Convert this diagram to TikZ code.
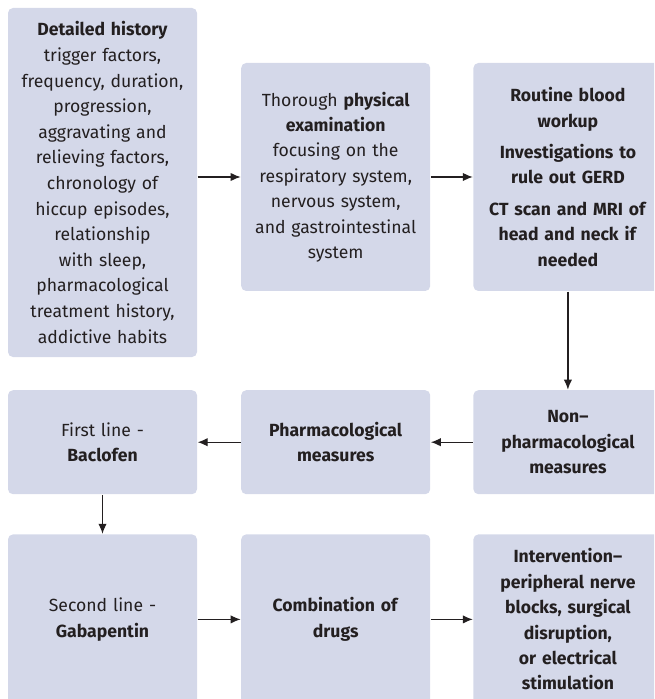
\documentclass[tikz,border=0pt]{standalone}
\usepackage{fontspec}
\setmainfont{Fira Sans}
\usetikzlibrary{positioning,arrows.meta}
\definecolor{boxfill}{RGB}{212,216,233}
\definecolor{inkgray}{RGB}{35,31,32}

\tikzset{
  stage/.style={rectangle, rounded corners=2.5pt, fill=boxfill, text=inkgray,
    align=center, inner sep=0pt, minimum width=94.5pt, text width=93pt,
    font=\fontsize{8.8}{12.7}\selectfont},
  histtext/.style={font=\fontsize{8.8}{12.8}\selectfont},
}

\begin{document}
\begin{tikzpicture}[x=0.5pt, y=-0.5pt, ->, >={Latex[length=5pt,width=4.2pt]},
    line width=0.6pt, draw=inkgray]
\useasboundingbox (0,0) rectangle (654,699);
\clip (0,0) rectangle (654,699);

% first row
\node [stage, histtext, minimum height=174.5pt] (hist) at (102.5,182.5)
  {\textbf{Detailed history}\\ trigger factors,\\ frequency, duration,\\ progression,\\
   aggravating and\\ relieving factors,\\ chronology of\\ hiccup episodes,\\ relationship\\
   with sleep,\\ pharmacological\\ treatment history,\\ addictive habits};
\node [stage, minimum height=114pt, right=21.5pt of hist, yshift=2.75pt] (exam)
  {Thorough \textbf{physical}\\ \textbf{examination}\\ focusing on the\\ respiratory system,\\
   nervous system,\\ and gastrointestinal\\ system};
\node [stage, minimum height=114pt, right=21pt of exam] (tests)
  {\textbf{Routine blood}\\ \textbf{workup}\\[3pt] \textbf{Investigations to}\\ \textbf{rule out GERD}\\[3pt]
   \textbf{CT scan and MRI of}\\ \textbf{head and neck if}\\ \textbf{needed}};

% second row
\node [stage, minimum height=52pt, below=49pt of tests] (nonpharm)
  {\textbf{Non–}\\ \textbf{pharmacological}\\ \textbf{measures}};
\node [stage, minimum height=52pt, left=21pt of nonpharm] (pharm)
  {\textbf{Pharmacological}\\ \textbf{measures}};
\node [stage, minimum height=52pt, left=21.5pt of pharm] (first)
  {First line -\\ \textbf{Baclofen}};

% third row
\node [stage, minimum height=85pt, below=19.5pt of first] (second)
  {Second line -\\ \textbf{Gabapentin}};
\node [stage, minimum height=85pt, right=21.5pt of second] (combo)
  {\textbf{Combination of}\\ \textbf{drugs}};
\node [stage, minimum height=85pt, right=21pt of combo] (interv)
  {\textbf{Intervention–}\\ \textbf{peripheral nerve}\\ \textbf{blocks, surgical}\\
   \textbf{disruption,}\\ \textbf{or electrical}\\ \textbf{stimulation}};

\path (hist.east |- exam.west) edge (exam.west)
      (exam) edge (tests)
      (tests) edge (nonpharm)
      (nonpharm) edge (pharm)
      (pharm) edge (first)
      (first) edge (second)
      (second) edge (combo)
      (combo) edge (interv);
\end{tikzpicture}
\end{document}
